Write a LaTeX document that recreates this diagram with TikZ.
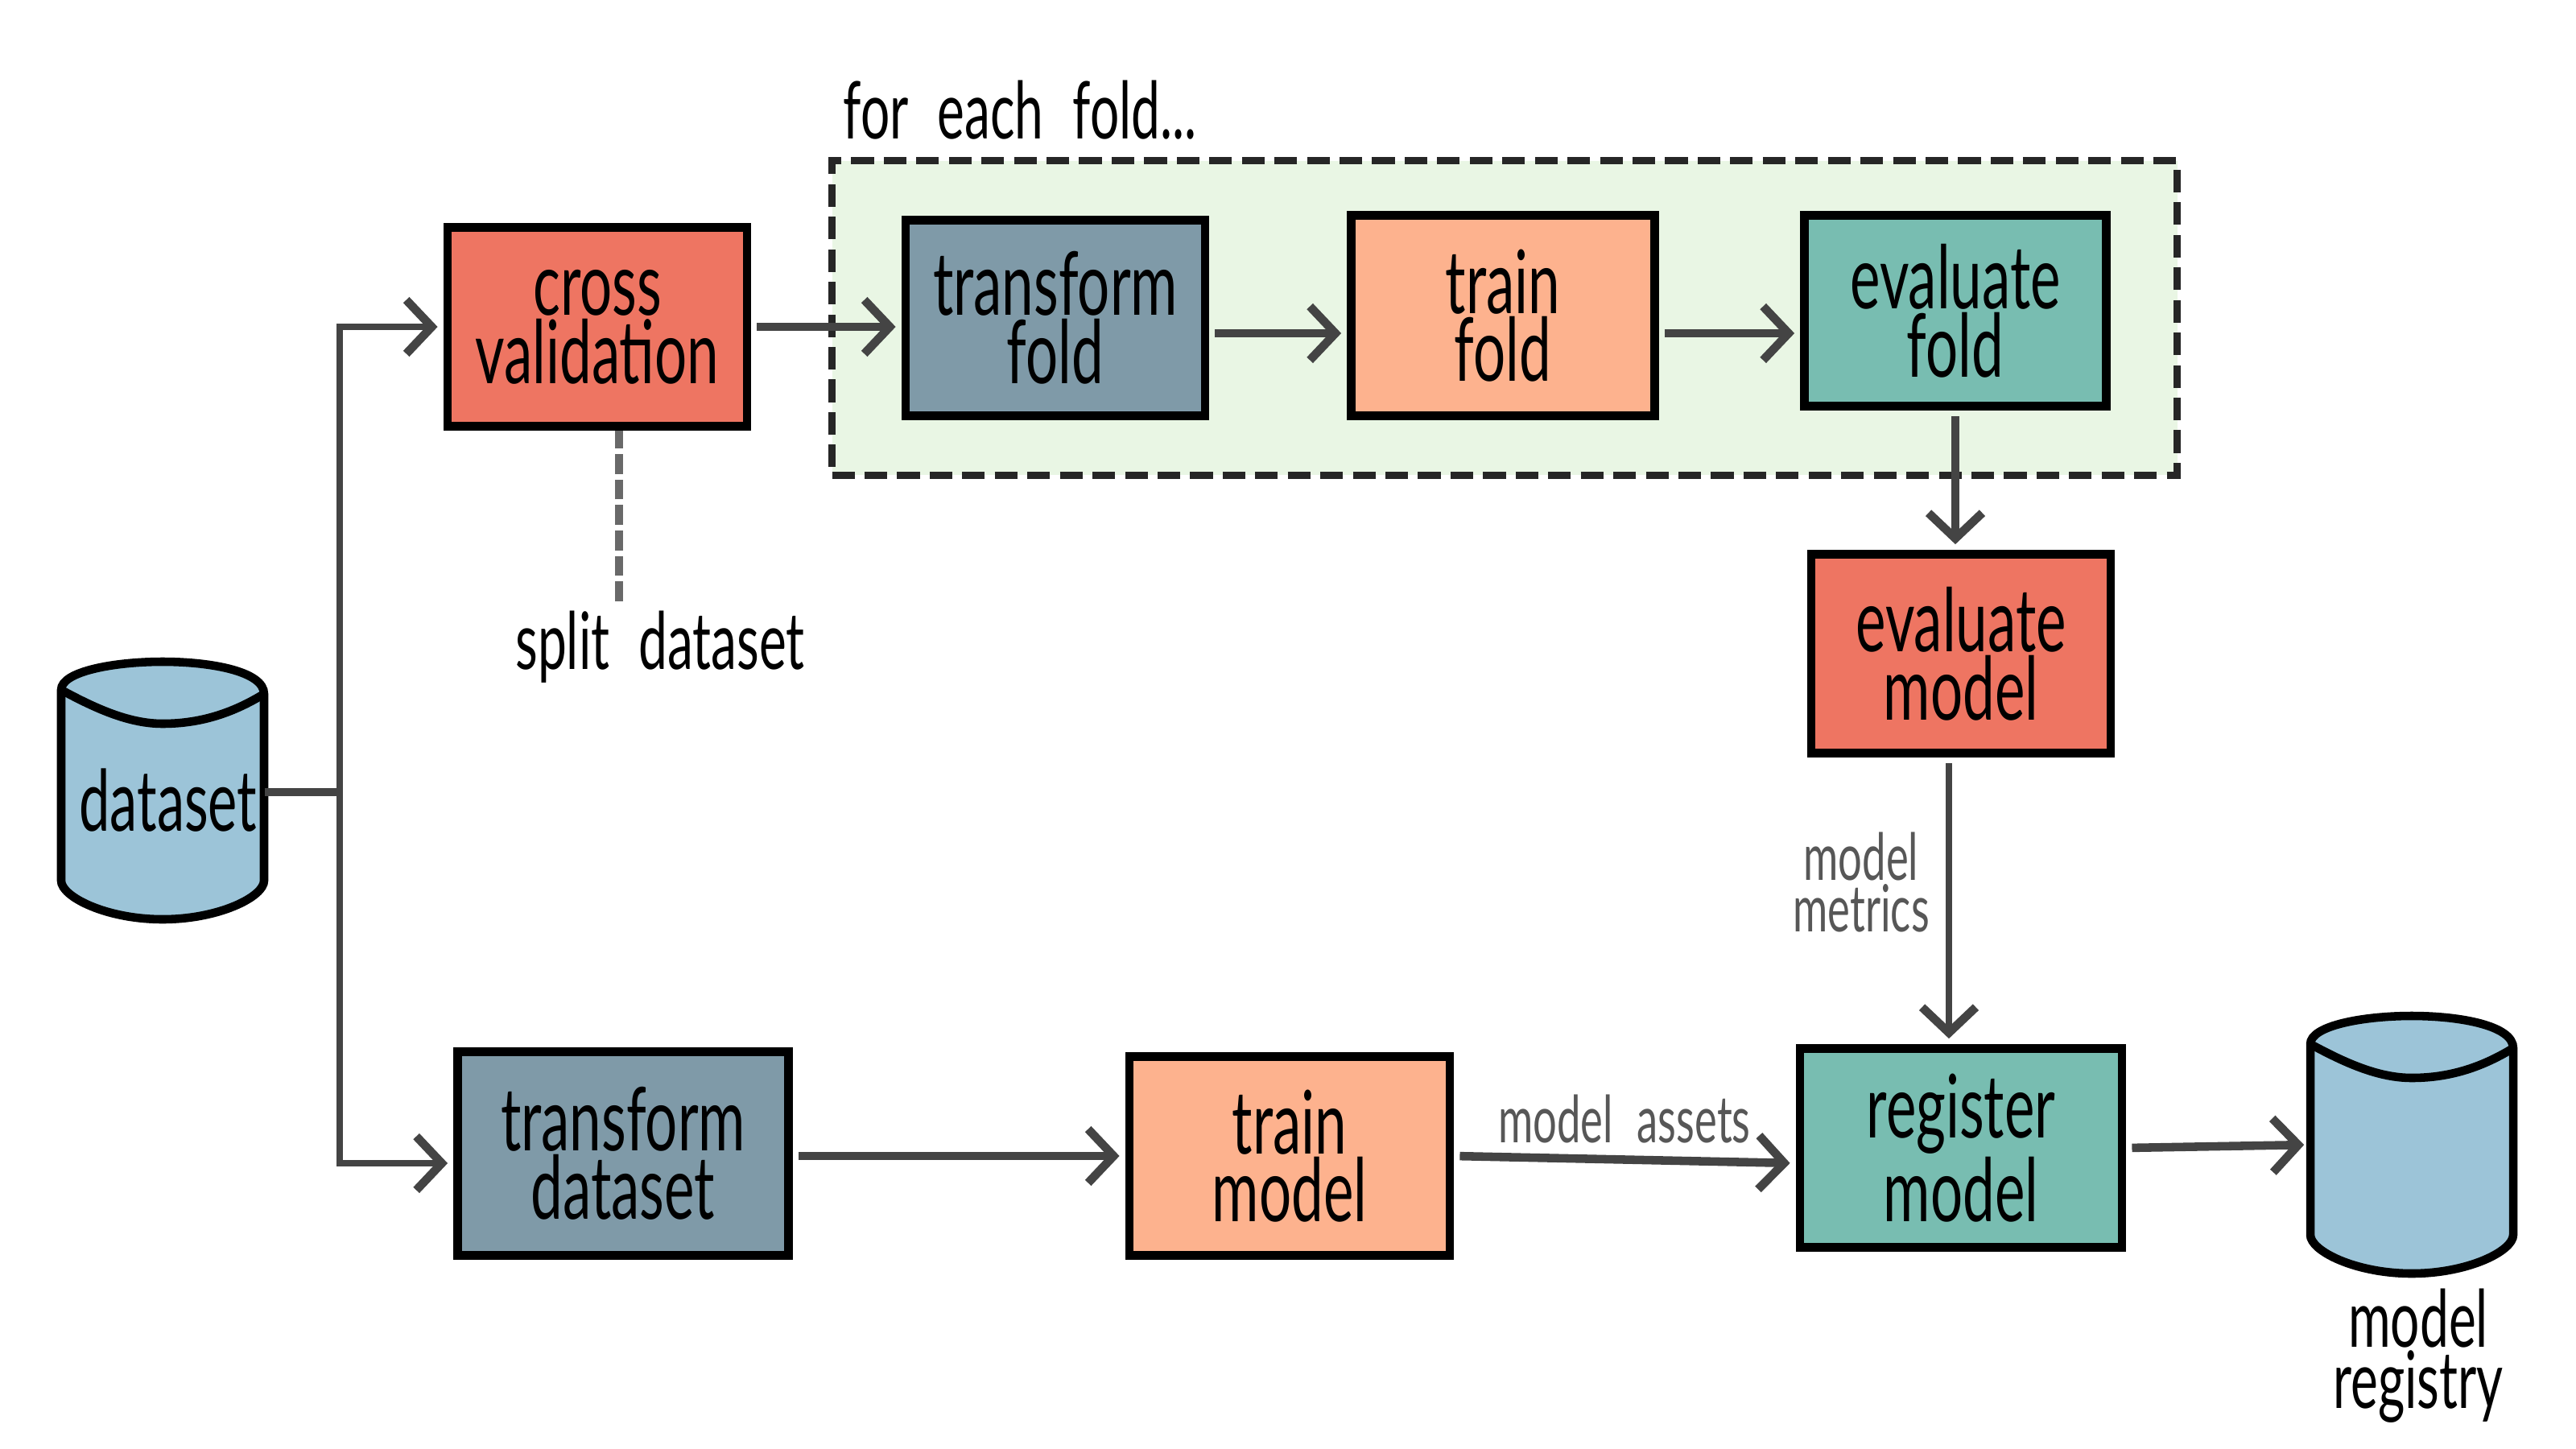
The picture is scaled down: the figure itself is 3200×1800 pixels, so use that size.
\documentclass[tikz,border=0pt]{standalone}
\usepackage{fontspec}
\setmainfont[FakeStretch=0.65,WordSpace=2.2]{Lato}
\usetikzlibrary{arrows.meta}
\definecolor{boxred}{HTML}{EE7562}
\definecolor{boxslate}{HTML}{7F9AA8}
\definecolor{boxorange}{HTML}{FDB28E}
\definecolor{boxteal}{HTML}{78BDB1}
\definecolor{storeblue}{HTML}{9CC4D8}
\definecolor{panelgreen}{HTML}{E9F6E4}
\definecolor{linegray}{HTML}{444444}
\tikzset{
    stepbox/.style={draw=black, line width=3pt, inner sep=0pt, align=center,
        font=\fontsize{31}{20.5}\selectfont, minimum width=#1},
    store/.style={inner sep=0pt, minimum width=2.52cm, minimum height=3.12cm,
        font=\fontsize{30}{20.5}\selectfont},
    flow/.style={draw=linegray, line width=3pt, shorten >=2pt, shorten <=2pt,
        -{Straight Barb[length=9pt,width=19pt,line width=3pt]}},
    note/.style={align=center, font=\fontsize{28}{20.5}\selectfont},
    sidenote/.style={align=center, text=linegray!90, font=\fontsize{23}{16.5}\selectfont},
}
% cylinder behind a named node
\newcommand{\drum}[3]{
    \draw[shift={(#1)}, draw=black, line width=3pt, fill=storeblue]
        (-126,-125) .. controls (-126,-148) and (-60,-160) .. (0,-160)
        .. controls (60,-160) and (126,-148) .. (126,-120) -- (126,112)
        .. controls (126,132) and (70,160) .. (0,160)
        .. controls (-70,160) and (-126,132) .. (-126,112) -- cycle;
    \draw[shift={(#1)}, draw=black, line width=3pt]
        (-126,-125) .. controls (-80,-100) and (-40,-83) .. (0,-83)
        .. controls (50,-83) and (90,-98) .. (126,-120);
    \node[store] (#2) at (#1) {\hspace*{0.14cm}\raisebox{-0.5cm}[0pt][0pt]{#3}};
}
\begin{document}
\begin{tikzpicture}[x=0.01cm, y=-0.01cm]
    \useasboundingbox (0,0) rectangle (3200,1800);

    % fold panel
    \node[draw=black!85, line width=2.6pt, dash pattern=on 8pt off 3.5pt, fill=panelgreen,
        minimum width=16.7cm, minimum height=3.9cm] (foldpanel) at (1869,395) {};
    \node[note] (foldnote) at (1267,137) {for each fold...};

    % top row
    \node[stepbox=3.72cm, fill=boxred, minimum height=2.47cm] (crossval) at (742,406) {cross\\validation};
    \node[stepbox=3.72cm, fill=boxslate, minimum height=2.43cm] (foldtrans) at (1311,395) {transform\\fold};
    \node[stepbox=3.77cm, fill=boxorange, minimum height=2.49cm] (foldtrain) at (1867,392) {train\\fold};
    \node[stepbox=3.75cm, fill=boxteal, minimum height=2.37cm] (foldeval) at (2429,386) {evaluate\\fold};
    \coordinate (foldrow) at (0,414);

    % evaluation
    \node[stepbox=3.72cm, fill=boxred, minimum height=2.47cm] (evalmodel) at (2436,812) {evaluate\\model};
    \node[note] (splitnote) at (820,804) {split dataset};
    \node[sidenote] (metricsnote) at (2312,1096) {model\\metrics};

    % bottom row
    \drum{202,982}{dataset}{dataset}
    \node[stepbox=4.11cm, fill=boxslate, minimum height=2.53cm] (datatrans) at (774,1433) {transform\\dataset};
    \node[stepbox=3.98cm, fill=boxorange, minimum height=2.47cm] (modeltrain) at (1602,1436) {train\\model};
    \node[stepbox=4cm, fill=boxteal, minimum height=2.47cm] (register) at (2436,1426) {register\\model};
    \drum{2996,1422}{registry}{}
    \node[sidenote] (assetsnote) at (2018,1390) {model assets};
    \node[note] (registrynote) at (3004,1684) {model\\registry};

    % trunk
    \coordinate (trunk) at (422,984);
    \draw[draw=linegray, line width=3pt] (dataset.east |- trunk) -- (trunk);
    \draw[flow, line width=2.4pt, shorten <=0pt] (trunk) |- (crossval.west);
    \draw[flow, line width=2.4pt, shorten <=0pt] (trunk) |- ([yshift=-0.12cm]datatrans.west);

    % connectors
    \draw[flow] (crossval.east) -- (foldtrans.west |- crossval.east);
    \draw[flow] (foldtrans.east |- foldrow) -- (foldtrain.west |- foldrow);
    \draw[flow] (foldtrain.east |- foldrow) -- (foldeval.west |- foldrow);
    \draw[flow, line width=2.6pt] (foldeval.south) -- (foldeval.south |- evalmodel.north);
    \draw[flow, line width=2.4pt] ([xshift=-0.15cm]evalmodel.south) -- ([xshift=-0.15cm]register.north);
    \draw[flow] (datatrans.east |- modeltrain) -- (modeltrain.west);
    \draw[flow] (modeltrain.east) -- ([yshift=-0.19cm]register.west);
    \draw[flow] (register.east) -- (registry.west);
    \draw[draw=linegray!80, line width=2.8pt, dash pattern=on 7pt off 2pt]
        ([xshift=-0.51cm]splitnote.north) -- ([xshift=-0.51cm]splitnote.north |- crossval.south);
\end{tikzpicture}
\end{document}
